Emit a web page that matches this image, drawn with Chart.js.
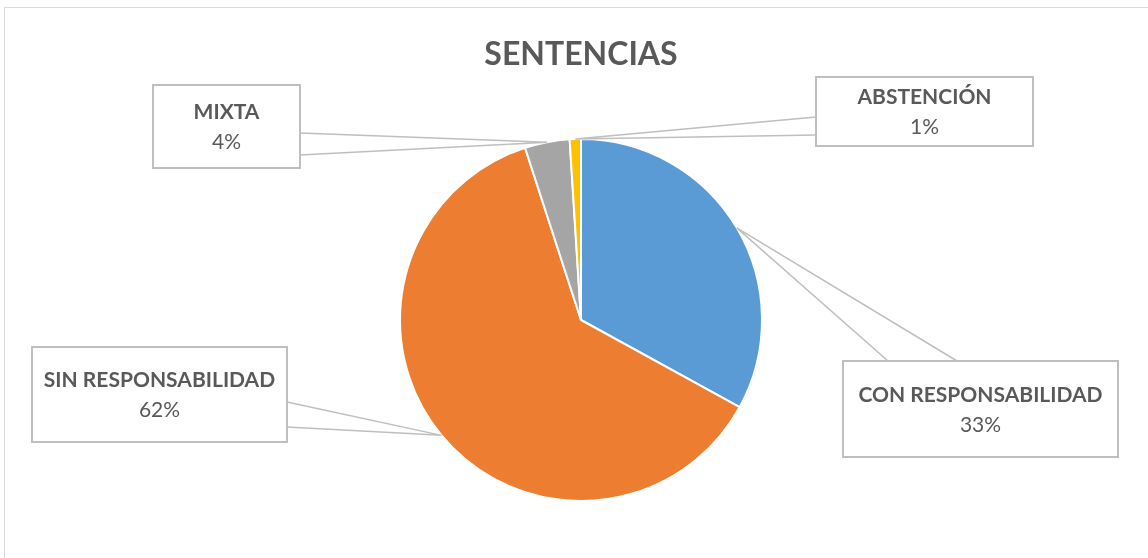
<!DOCTYPE html>
<html>
<head>
<meta charset="utf-8">
<script src="https://cdn.jsdelivr.net/npm/chart.js@4"></script>
<style>
html,body{margin:0;padding:0;background:#fff;}
#wrap{width:1148px;height:558px;position:relative;}
</style>
</head>
<body>
<div id="wrap"><canvas id="c" width="1148" height="558"></canvas></div>
<script>
const title = 'SENTENCIAS';
const categories = ['CON RESPONSABILIDAD', 'SIN RESPONSABILIDAD', 'MIXTA', 'ABSTENCIÓN'];
const values = [33, 62, 4, 1];
const percentLabels = ['33%', '62%', '4%', '1%'];
const colors = ['#5B9BD5', '#ED7D31', '#A5A5A5', '#FFC000'];

const FONT = 'Lato, "Open Sans", sans-serif';
const TEXT = '#595959';
const LINE = '#BFBFBF';

// callout box layout (positions only)
const callouts = [
  {x:843, y:361, w:275, h:96, p1:[888,361], p2:[957,361]},
  {x:32,  y:347, w:255, h:95, p1:[287,402], p2:[287,427]},
  {x:153, y:85,  w:147, h:83, p1:[300,133], p2:[300,155]},
  {x:816, y:77,  w:217, h:69, p1:[816,117], p2:[816,135]}
];

const calloutPlugin = {
  id: 'callouts',
  beforeDraw(chart) {
    const ctx = chart.ctx;
    ctx.save();
    ctx.fillStyle = '#fff';
    ctx.fillRect(0, 0, chart.width, chart.height);
    ctx.strokeStyle = '#D9D9D9';
    ctx.lineWidth = 1;
    ctx.beginPath();
    ctx.moveTo(4.5, chart.height);
    ctx.lineTo(4.5, 7.5);
    ctx.lineTo(chart.width, 7.5);
    ctx.stroke();
    ctx.fillStyle = TEXT;
    ctx.font = 'bold 32px ' + FONT;
    ctx.textAlign = 'center';
    ctx.textBaseline = 'middle';
    ctx.fillText(title, 581, 55);
    ctx.restore();
  },
  afterDatasetsDraw(chart) {
    const ctx = chart.ctx;
    const meta = chart.getDatasetMeta(0);
    ctx.save();
    meta.data.forEach((arc, i) => {
      const c = callouts[i];
      const p = arc.getProps(['x','y','startAngle','endAngle','outerRadius'], true);
      const mid = (p.startAngle + p.endAngle) / 2;
      const ax = p.x + Math.cos(mid) * p.outerRadius;
      const ay = p.y + Math.sin(mid) * p.outerRadius;
      ctx.strokeStyle = LINE;
      ctx.lineWidth = 1.5;
      ctx.beginPath();
      ctx.moveTo(c.p1[0], c.p1[1]);
      ctx.lineTo(ax, ay);
      ctx.lineTo(c.p2[0], c.p2[1]);
      ctx.stroke();
      ctx.fillStyle = '#fff';
      ctx.fillRect(c.x, c.y, c.w, c.h);
      ctx.lineWidth = 2;
      ctx.strokeRect(c.x, c.y, c.w, c.h);
      const cx = c.x + c.w / 2;
      const cy = c.y + c.h / 2;
      ctx.fillStyle = TEXT;
      ctx.textAlign = 'center';
      ctx.textBaseline = 'middle';
      ctx.font = 'bold 21px ' + FONT;
      ctx.fillText(chart.data.labels[i], cx, cy - 14);
      ctx.font = '21px ' + FONT;
      ctx.fillText(percentLabels[i], cx, cy + 16);
    });
    ctx.restore();
  }
};

new Chart(document.getElementById('c'), {
  type: 'pie',
  data: {
    labels: categories,
    datasets: [{
      data: values,
      backgroundColor: colors,
      borderColor: '#ffffff',
      borderWidth: 2
    }]
  },
  options: {
    responsive: false,
    animation: false,
    layout: { padding: { left: 399, right: 385, top: 138, bottom: 56 } },
    plugins: {
      legend: { display: false },
      title: { display: false },
      tooltip: { enabled: false }
    }
  },
  plugins: [calloutPlugin]
});
</script>
</body>
</html>
